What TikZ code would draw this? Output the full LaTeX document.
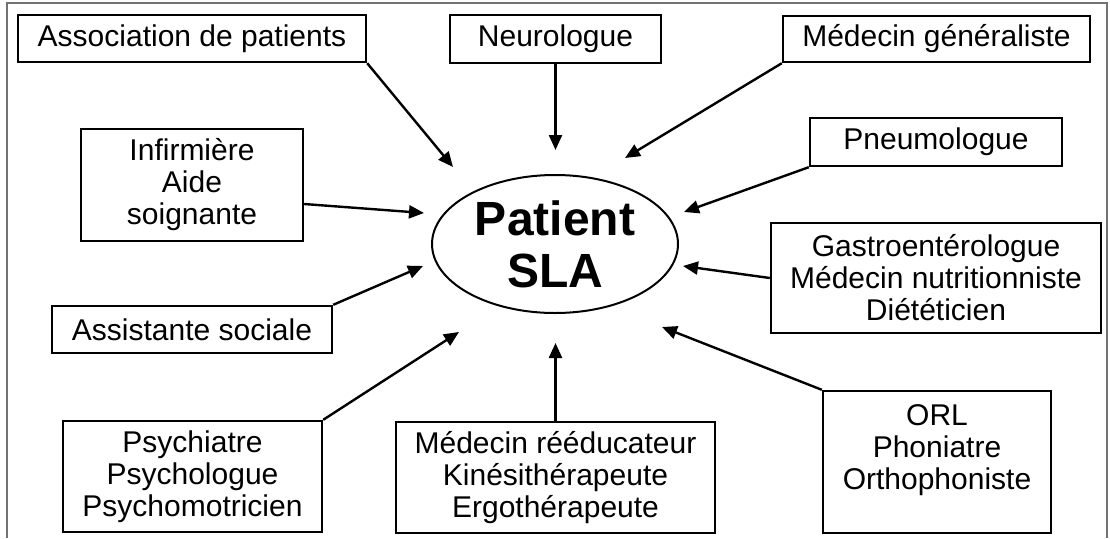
\documentclass[tikz,border=0pt]{standalone}
\usepackage{fontspec}
\setmainfont{Liberation Sans}
\usetikzlibrary{shapes.geometric,arrows.meta}

\begin{document}
\begin{tikzpicture}[x=1pt,y=-1pt,
    box/.style={draw, line width=2.4pt, inner sep=0pt, align=center, font=\fontsize{30}{32}\selectfont},
    link/.style={-{Triangle[length=15pt,width=13pt]}, line width=2.4pt}]
  \useasboundingbox (0,0) rectangle (1110,538);
  \draw[black!55, line width=1.5pt] (7,538) -- (7,3) -- (1107,3) -- (1107,538);

  \node[ellipse, draw, line width=2pt, minimum width=246pt, minimum height=138pt, inner sep=0pt,
    align=center, font=\fontsize{48}{52}\selectfont\bfseries] (sla) at (555,244) {Patient\\SLA};

  \node[box, minimum width=348pt, minimum height=47pt] (assoc) at (192,38.5) {Association de patients};
  \node[box, minimum width=211pt, minimum height=48pt] (neuro) at (555.5,39) {Neurologue};
  \node[box, minimum width=307pt, minimum height=46pt] (gene) at (936.5,39) {Médecin généraliste};
  \node[box, minimum width=222pt, minimum height=112pt] (infir) at (192,185) {Infirmière\\Aide\\soignante};
  \node[box, minimum width=252pt, minimum height=48pt] (pneumo) at (936,142) {Pneumologue};
  \node[box, minimum width=330pt, minimum height=110pt] (gastro) at (936,278) {Gastroentérologue\\Médecin nutritionniste\\Diététicien};
  \node[box, minimum width=280pt, minimum height=47pt] (social) at (192,329.5) {Assistante sociale};
  \node[box, minimum width=259pt, minimum height=111pt] (psy) at (192.5,476.5) {Psychiatre\\Psychologue\\Psychomotricien};
  \node[box, minimum width=319pt, minimum height=111pt] (reedu) at (555.5,477.5) {Médecin rééducateur\\Kinésithérapeute\\Ergothérapeute};
  \node[box, minimum width=228pt, minimum height=142pt] (orl) at (937,462) {};
  \node[box, draw=none] (orltext) at (937,450) {ORL\\Phoniatre\\Orthophoniste};

  % arrow tips stop short of the ellipse
  \coordinate (tassoc) at (453,167);
  \coordinate (tneuro) at (555.5,150);
  \coordinate (tgene) at (625,158);
  \coordinate (tpneumo) at (684,212);
  \coordinate (tgastro) at (683,266);
  \coordinate (tinfir) at (424,213);
  \coordinate (tsocial) at (423,266);
  \coordinate (tpsy) at (459,332);
  \coordinate (treedu) at (555.5,343);
  \coordinate (torl) at (662,327);

  \draw[link] (assoc.south east) -- (tassoc);
  \draw[link] (neuro.south) -- (tneuro);
  \draw[link] (gene.south west) -- (tgene);
  \draw[link] (pneumo.south west) -- (tpneumo);
  \draw[link] (gastro.west) -- (tgastro);
  \draw[link] ([yshift=-19pt]infir.east) -- (tinfir);
  \draw[link] (social.north east) -- (tsocial);
  \draw[link] (psy.north east) -- (tpsy);
  \draw[link] (reedu.north) -- (treedu);
  \draw[link] (orl.north west) -- (torl);
\end{tikzpicture}
\end{document}
